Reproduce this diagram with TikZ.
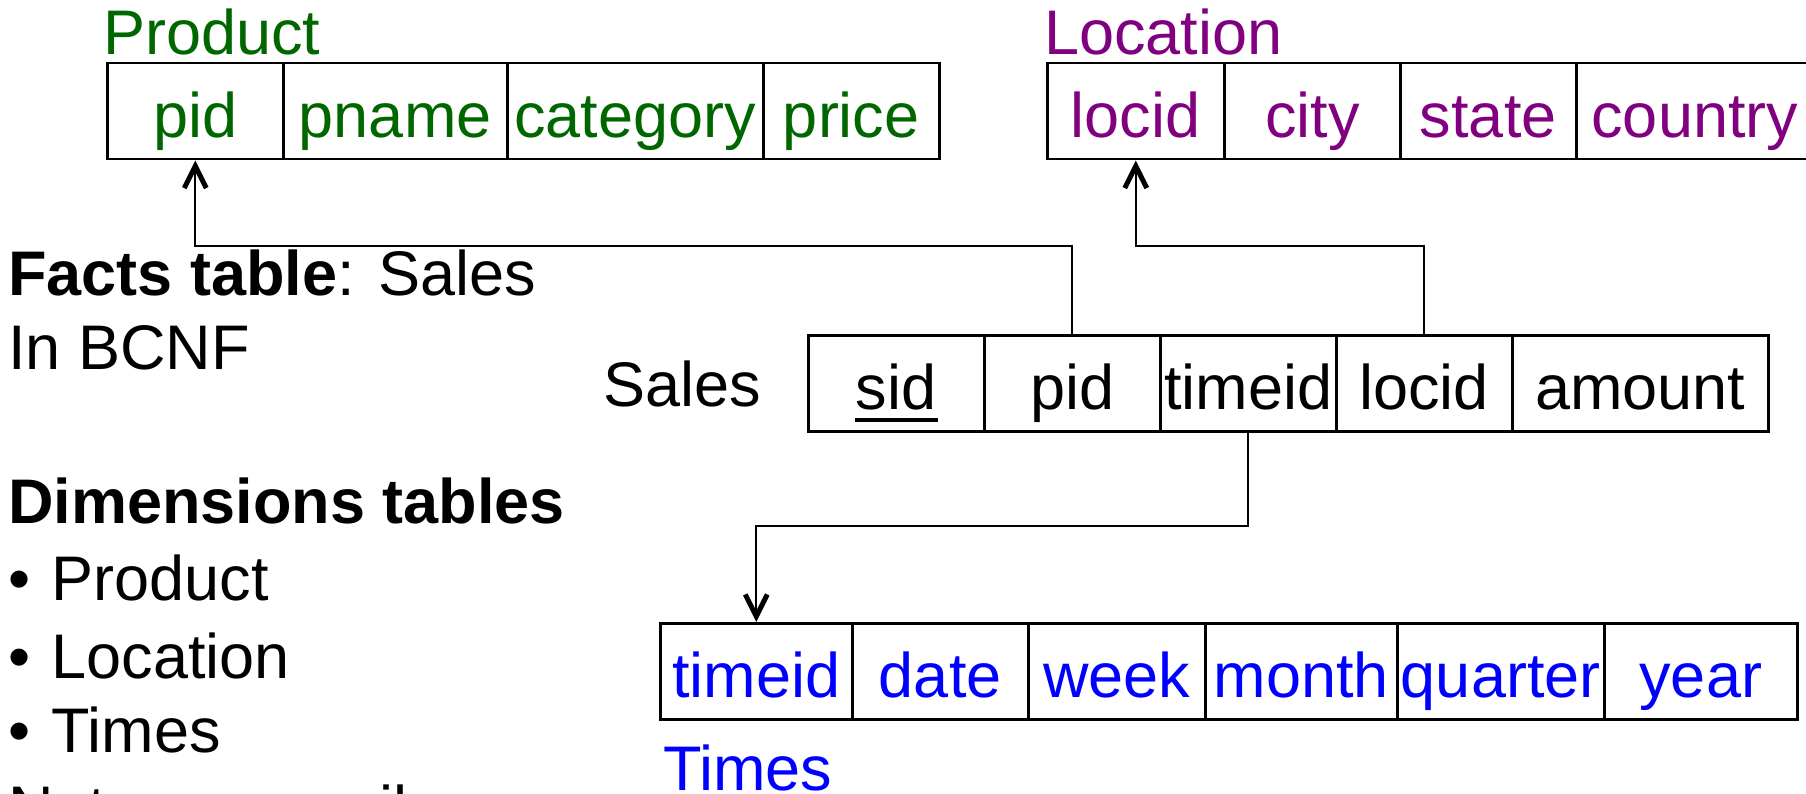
\documentclass[tikz,border=0pt]{standalone}
\usepackage{fontspec}
\setmainfont{Liberation Sans}
\usetikzlibrary{arrows.meta}

\definecolor{prodgreen}{RGB}{0,102,0}
\definecolor{locpurple}{RGB}{128,0,128}
\definecolor{timeblue}{RGB}{0,0,255}

% primary-key attribute: text with a heavy underline
\newcommand\keyattr[1]{\setbox0\hbox{#1}\rlap{\hspace{-1pt}\rule[-13pt]{\dimexpr\wd0+2pt\relax}{4pt}}\box0}

\begin{document}
\begin{tikzpicture}[x=1pt,y=-1pt,
  every node/.style={font=\fontsize{63}{76}\selectfont},
  txt/.style={anchor=base west, inner sep=0pt},
  cell/.style={draw, line width=2.5pt, anchor=north west, inner sep=0pt,
               minimum height=96pt, text height=64pt, text depth=12pt},
  fk/.style={line width=2.2pt},
  fkarrow/.style={fk, -{Straight Barb[length=22pt,width=22pt,line width=5pt]}}
]
\useasboundingbox (0,0) rectangle (1806,794);

% Product dimension table
\node[txt, text=prodgreen] (prodtitle) at (103,55) {Product};
\node[cell, text=prodgreen, minimum width=176pt] (p1) at (106,62) {pid};
\node[cell, text=prodgreen, minimum width=224pt] (p2) at (282,62) {pname};
\node[cell, text=prodgreen, minimum width=256pt] (p3) at (506,62) {category};
\node[cell, text=prodgreen, minimum width=176pt] (p4) at (762,62) {price};

% Location dimension table
\node[txt, text=locpurple] (loctitle) at (1044,55) {Location};
\node[cell, text=locpurple, minimum width=177pt] (l1) at (1046,62) {locid};
\node[cell, text=locpurple, minimum width=176pt] (l2) at (1223,62) {city};
\node[cell, text=locpurple, minimum width=176pt] (l3) at (1399,62) {state};
\node[cell, text=locpurple, minimum width=237pt] (l4) at (1575,62) {country};

% Sales fact table
\node[txt] (saleslbl) at (603,406) {Sales};
\node[cell, minimum width=176pt] (s1) at (807,334) {\keyattr{sid}};
\node[cell, minimum width=176pt] (s2) at (983,334) {pid};
\node[cell, minimum width=176pt] (s3) at (1159,334) {timeid};
\node[cell, minimum width=176pt] (s4) at (1335,334) {locid};
\node[cell, minimum width=256pt] (s5) at (1511,334) {amount};

% Times dimension table
\node[cell, text=timeblue, minimum width=192pt] (t1) at (659,622) {timeid};
\node[cell, text=timeblue, minimum width=176pt] (t2) at (851,622) {date};
\node[cell, text=timeblue, minimum width=177pt] (t3) at (1027,622) {week};
\node[cell, text=timeblue, minimum width=192pt] (t4) at (1204,622) {month};
\node[cell, text=timeblue, minimum width=207pt] (t5) at (1396,622) {quarter};
\node[cell, text=timeblue, minimum width=193pt] (t6) at (1603,622) {year};
\node[txt, text=timeblue] (timestitle) at (663,790) {Times};

% foreign-key references
\coordinate (fkrow) at (0,246);
\coordinate (dimrow) at (0,526);
\draw[fkarrow] (s2.north) -- (s2.north |- fkrow) -| (p1.south);
\draw[fkarrow] (s4.north) -- (s4.north |- fkrow) -| (l1.south);
\draw[fkarrow] (s3.south) -- (s3.south |- dimrow) -| (t1.north);

% explanatory text
\node[txt] (facts) at (8,295) {\textbf{Facts table}: Sales};
\node[txt] (bcnf) at (8,369) {In BCNF};
\node[txt] (dims) at (8,523) {\textbf{Dimensions tables}};
\node[txt] (bprod) at (8,600) {•\hspace{4pt} Product};
\node[txt] (bloc) at (8,678) {•\hspace{4pt} Location};
\node[txt] (btimes) at (8,752) {•\hspace{4pt} Times};
\node[txt] (notnf) at (8,830) {Not necessarily};
\end{tikzpicture}
\end{document}
